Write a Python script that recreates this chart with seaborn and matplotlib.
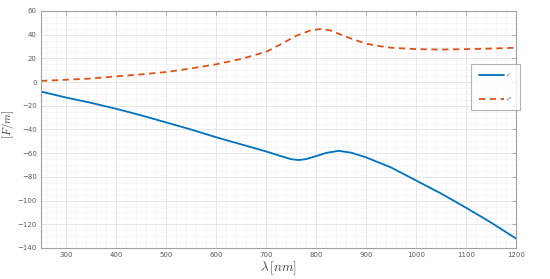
import numpy as np
import pandas as pd
import matplotlib
matplotlib.use("Agg")
import matplotlib.pyplot as plt
import seaborn as sns
from matplotlib.ticker import MultipleLocator

# --------------------------
# Data
# --------------------------
wl_real = [250, 300, 350, 400, 450, 500, 550, 600, 650, 700, 730, 750, 765,
           780, 800, 820, 845, 870, 900, 950, 1000, 1050, 1100, 1150, 1200]
eps_real = [-8, -13, -17.5, -22.5, -28, -34, -40, -46.5, -52.5, -58.5, -62.5,
            -65, -65.8, -65, -62.5, -59.8, -58, -59.5, -63.5, -72, -83, -94,
            -106, -118.5, -132]

wl_imag = [250, 300, 350, 400, 450, 500, 550, 600, 650, 700, 730, 760, 790,
           810, 830, 850, 875, 900, 925, 950, 1000, 1050, 1100, 1150, 1200]
eps_imag = [1, 2, 3, 4.8, 6.5, 8.5, 11.5, 15, 19.5, 25.5, 32, 39, 43.8,
            44.8, 43.5, 40, 36, 32.5, 30.5, 29, 27.8, 27.5, 27.8, 28.3, 29]

labels = [r"$\epsilon'$", r"$\epsilon''$"]

# --------------------------
# Plot
# --------------------------
sns.set_style("white")
plt.rcParams['mathtext.fontset'] = 'cm'

fig = plt.figure(figsize=(5.5, 2.79), dpi=100)
ax = fig.add_axes([41 / 550, 1 - 248 / 279, 475 / 550, 237 / 279])

df_r = pd.DataFrame({'wl': wl_real, 'eps': eps_real})
df_i = pd.DataFrame({'wl': wl_imag, 'eps': eps_imag})

sns.lineplot(data=df_r, x='wl', y='eps', ax=ax, color='#0072BD', lw=1.3,
             label=labels[0])
sns.lineplot(data=df_i, x='wl', y='eps', ax=ax, color='#D95319', lw=1.3,
             linestyle=(0, (3.5, 2.5)), label=labels[1])

ax.set_xlim(250, 1200)
ax.set_ylim(-140, 60)
ax.xaxis.set_major_locator(MultipleLocator(100))
ax.xaxis.set_minor_locator(MultipleLocator(20))
ax.yaxis.set_major_locator(MultipleLocator(20))
ax.yaxis.set_minor_locator(MultipleLocator(5))

ax.grid(which='major', color='#e3e3e3', lw=0.6)
ax.grid(which='minor', color='#f1f1f1', lw=0.5)
ax.set_axisbelow(True)

for s in ax.spines.values():
    s.set_color('#a0a0a0')
    s.set_linewidth(0.8)

ax.tick_params(which='major', direction='in', length=3, width=0.6,
               color='#a0a0a0', labelsize=5, labelcolor='#5a5a5a',
               top=True, right=True, pad=3)
ax.tick_params(which='minor', length=0)

ax.set_xlabel(r"$\lambda\,[nm]$", fontsize=9.5, color='#404040', labelpad=1)
ax.set_ylabel(r"$[F/m]$", fontsize=8, color='#404040')
ax.yaxis.set_label_coords(-0.052, 0.52)

leg = ax.legend(loc='center right', bbox_to_anchor=(1.008, 0.68),
                borderaxespad=0, fontsize=4, handlelength=4.5, frameon=True,
                fancybox=False, borderpad=1.3, labelspacing=3.0,
                handletextpad=0.4)
leg.get_frame().set_edgecolor('#a0a0a0')
leg.get_frame().set_linewidth(0.8)

fig.savefig('out.png', dpi=100)
